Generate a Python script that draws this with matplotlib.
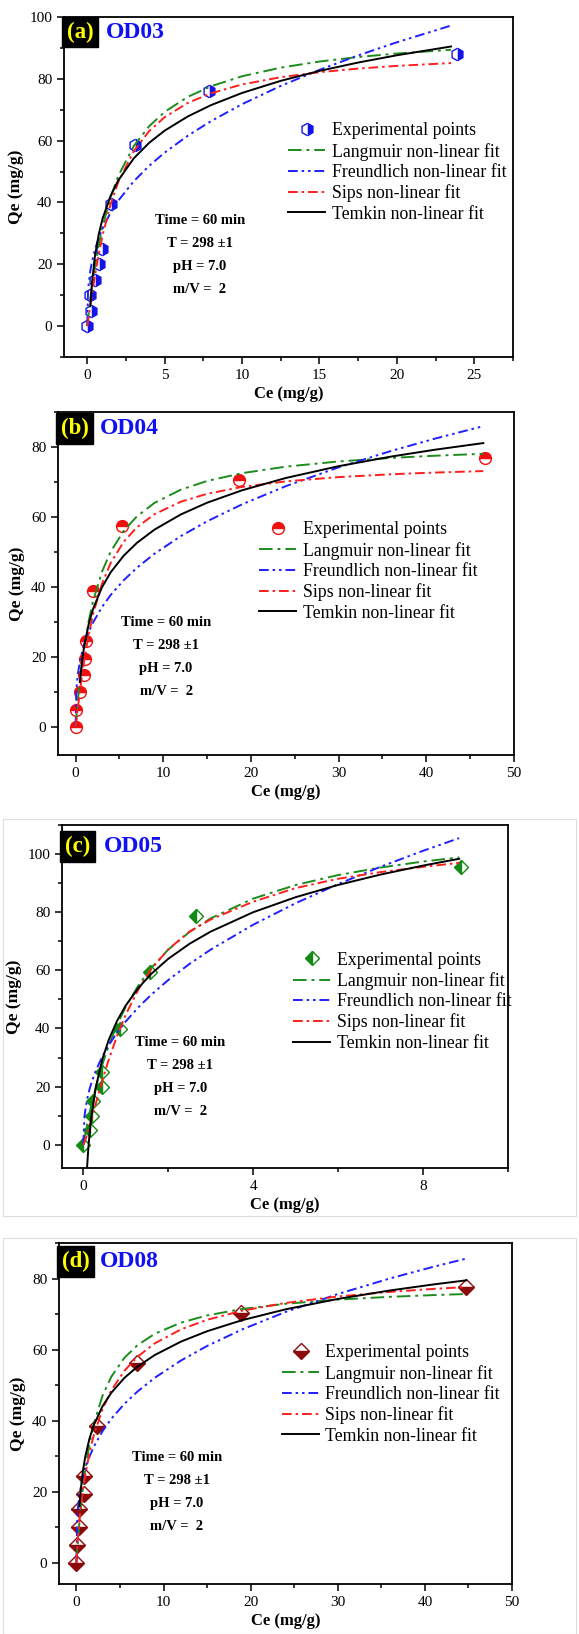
import numpy as np
import matplotlib
matplotlib.use("Agg")
from matplotlib import pyplot as plt
import matplotlib.ticker as mticker
from matplotlib.patches import Rectangle

plt.rcParams['font.family'] = ['Liberation Serif', 'DejaVu Serif']

# ---------------- experimental points ----------------
ce_a = [0.0, 0.22, 0.18, 0.52, 0.75, 0.95, 1.52, 3.06, 7.84, 23.88]
qe_a = [0, 5, 10, 15, 20, 25, 39.5, 58.5, 76.2, 88.0]
ce_b = [0.0, 0.1, 0.46, 0.95, 1.1, 1.2, 1.98, 5.3, 18.6, 46.7]
qe_b = [0, 5, 10, 15, 19.5, 24.5, 39.0, 57.5, 70.7, 76.9]
ce_c = [0.0, 0.17, 0.21, 0.23, 0.43, 0.45, 0.86, 1.58, 2.65, 8.89]
qe_c = [0, 5, 10, 15, 20, 25, 39.8, 59.5, 78.8, 95.6]
ce_d = [0.0, 0.1, 0.27, 0.3, 0.88, 0.9, 2.41, 6.9, 18.9, 44.7]
qe_d = [0, 5, 10, 15, 19.4, 24.5, 38.5, 56.1, 70.3, 77.5]

# ---------------- fitted curves ----------------
ce_fit_a = [0, 0.05, 0.1, 0.2, 0.3, 0.5, 0.75, 1, 1.5, 2, 3, 4, 5, 6.5, 8, 10,
            12.5, 15, 17.5, 20, 23.5]
lang_a = [0, 2.37, 4.62, 8.82, 12.65, 19.4, 26.45, 32.33, 41.57, 48.5, 58.2,
          64.67, 69.29, 74.18, 77.6, 80.83, 83.62, 85.59, 87.05, 88.18, 89.4]
freu_a = [0, 10.94, 14.0, 17.9, 20.67, 24.78, 28.62, 31.7, 36.61, 40.54, 46.82,
          51.86, 56.13, 61.61, 66.32, 71.79, 77.71, 82.9, 87.57, 91.82, 97.23]
sips_a = [0, 1.46, 3.14, 6.6, 10.02, 16.42, 23.48, 29.55, 39.24, 46.53, 56.58,
          63.09, 67.6, 72.21, 75.33, 78.17, 80.53, 82.14, 83.31, 84.18, 85.1]
temk_a = [6.57, 13.71, 22.7, 29.84, 34.9, 42.04, 47.1, 54.24, 59.3, 63.23,
          67.84, 71.5, 75.43, 79.35, 82.56, 85.27, 87.62, 90.46]

ce_fit_b = [0, 0.1, 0.25, 0.5, 0.75, 1, 1.5, 2, 3, 4, 5.5, 7, 9, 12, 15, 19,
            24, 30, 36, 41, 46.5]
lang_b = [0, 3.07, 7.27, 13.36, 18.54, 22.99, 30.27, 35.95, 44.27, 50.06, 56.06,
          60.18, 64.02, 67.8, 70.29, 72.53, 74.39, 75.87, 76.88, 77.51, 78.06]
freu_b = [0, 10.91, 14.85, 18.75, 21.48, 23.66, 27.11, 29.86, 34.22, 37.7, 41.95,
          45.5, 49.5, 54.53, 58.77, 63.63, 68.83, 74.19, 78.88, 82.4, 85.96]
sips_b = [0, 1.88, 5.04, 10.19, 14.92, 19.18, 26.42, 32.23, 40.85, 46.84, 52.96,
          57.07, 60.8, 64.36, 66.62, 68.6, 70.18, 71.4, 72.21, 72.7, 73.12]
temk_b = [12.86, 18.97, 23.3, 29.41, 33.74, 39.85, 44.18, 48.97, 52.61, 56.39,
          60.72, 64.08, 67.64, 71.16, 74.52, 77.27, 79.23, 81.12]

ce_fit_c = [0, 0.03, 0.06, 0.09, 0.12, 0.16, 0.2, 0.3, 0.45, 0.6, 0.8, 1.0, 1.3,
            1.6, 2, 2.5, 3, 4, 5, 6, 7, 8, 8.85]
lang_c = [0, 2.38, 4.65, 6.84, 8.95, 11.63, 14.17, 20.02, 27.62, 34.1, 41.36,
          47.43, 54.85, 60.8, 67.11, 73.18, 77.88, 84.67, 89.35, 92.77, 95.37,
          97.43, 98.86]
freu_c = [0, 9.79, 13.08, 15.5, 17.48, 19.71, 21.64, 25.63, 30.37, 34.25, 38.62,
          42.4, 47.31, 51.6, 56.65, 62.19, 67.12, 75.69, 83.09, 89.67, 95.64,
          101.12, 105.48]
sips_c = [0, 0.87, 2.09, 3.46, 4.93, 6.98, 9.08, 14.41, 22.15, 29.25, 37.6,
          44.73, 53.48, 60.39, 67.2, 73.3, 77.5, 83.6, 88.3, 91.5, 93.8, 95.6,
          96.97]
temk_c = [-7.84, -1.18, 5.48, 10.64, 20.03, 29.41, 36.07, 42.73, 47.9, 53.97,
          58.78, 63.95, 69.11, 73.33, 79.99, 85.16, 89.38, 92.95, 96.04, 98.38]

ce_fit_d = [0, 0.1, 0.2, 0.35, 0.5, 0.75, 1, 1.5, 2, 3, 4, 5.5, 7, 9, 12, 15,
            19, 24, 30, 36, 41, 44.75]
lang_d = [0, 3.69, 7.05, 11.56, 15.54, 21.23, 25.98, 33.47, 39.11, 47.04, 52.34,
          57.66, 61.22, 64.45, 67.58, 69.61, 71.41, 72.89, 74.05, 74.85, 75.34,
          75.64]
freu_d = [0, 12.91, 16.0, 19.03, 21.25, 24.1, 26.35, 29.88, 32.67, 37.04, 40.5,
          44.7, 48.17, 52.07, 56.92, 61.01, 65.65, 70.58, 75.63, 80.03, 83.32,
          85.61]
sips_d = [0, 4.55, 7.88, 12.03, 15.55, 20.45, 24.51, 30.97, 35.96, 43.28, 48.48,
          54.01, 57.96, 61.76, 65.68, 68.38, 70.92, 73.12, 74.94, 76.24, 77.08,
          77.6]
temk_d = [15.9, 20.57, 25.89, 29.66, 34.98, 38.75, 44.06, 47.83, 52.01, 55.17,
          58.47, 62.24, 65.16, 68.26, 71.32, 74.25, 76.64, 78.34, 79.49]

panel_tags = ["(a)", "(b)", "(c)", "(d)"]
panel_names = ["OD03", "OD04", "OD05", "OD08"]
series_labels = ["Experimental points", "Langmuir non-linear fit",
                 "Freundlich non-linear fit", "Sips non-linear fit",
                 "Temkin non-linear fit"]
conditions = ["Time = 60 min", "T = 298 \u00b11", "pH = 7.0", "m/V =  2"]

W, H = 579, 1634


def draw_panel(ax, ce, qe, fit_x, lang, freu, sips, temk, tag, name, marker, mcolor, fill,
               msize, xlim, ylim, xmaj, xmin_, ymaj, leg_pos, cond_pos, tag_y, name_x):
    ax.plot(ce, qe, linestyle='none', marker=marker, markersize=msize, color=mcolor,
            markeredgecolor=mcolor, markerfacecoloralt='white', fillstyle=fill,
            markeredgewidth=1.0, label=series_labels[0], zorder=2)
    ax.plot(fit_x, lang, color='#1c8c1c', lw=1.4, ls=(0, (7, 2.5, 1.5, 2.5)),
            label=series_labels[1], zorder=3)
    ax.plot(fit_x, freu, color='#1f1fff', lw=1.4, ls=(0, (5, 2, 1.3, 2, 1.3, 2)),
            label=series_labels[2], zorder=3)
    ax.plot(fit_x, sips, color='#ff1f1f', lw=1.4, ls=(0, (5, 2, 1.3, 2)),
            label=series_labels[3], zorder=3)
    ax.plot(fit_x[-len(temk):], temk, color='black', lw=1.4,
            label=series_labels[4], zorder=3)

    ax.set_xlim(*xlim)
    ax.set_ylim(*ylim)
    ax.xaxis.set_major_locator(mticker.MultipleLocator(xmaj))
    ax.xaxis.set_minor_locator(mticker.MultipleLocator(xmin_))
    ax.yaxis.set_major_locator(mticker.MultipleLocator(ymaj))
    ax.yaxis.set_minor_locator(mticker.MultipleLocator(ymaj / 2))
    ax.tick_params(which='both', direction='out', top=False, right=False,
                   labelsize=11, width=1.1)
    ax.tick_params(which='major', length=5)
    ax.tick_params(which='minor', length=3)
    for sp in ax.spines.values():
        sp.set_linewidth(1.3)

    ax.set_xlabel("Ce (mg/g)", fontsize=12, fontweight='bold', labelpad=3)
    ax.set_ylabel("Qe (mg/g)", fontsize=12.5, fontweight='bold', labelpad=4)

    ax.legend(loc='upper left', bbox_to_anchor=leg_pos, frameon=False, fontsize=12.8,
              handlelength=2.1, handletextpad=0.35, labelspacing=0.19, borderpad=0,
              borderaxespad=0)

    step = 0.067
    for i, line in enumerate(conditions):
        ax.text(cond_pos[0], cond_pos[1] - i * step, line, transform=ax.transAxes,
                ha='center', va='center', fontsize=10.5, fontweight='bold')

    ax.text(0.006, tag_y, tag, transform=ax.transAxes, ha='left', va='center',
            fontsize=16.5, fontweight='bold', color='#ffff00',
            bbox=dict(boxstyle='square,pad=0.2', facecolor='black', edgecolor='black'))
    ax.text(name_x, tag_y, name, transform=ax.transAxes, ha='left', va='center',
            fontsize=17, fontweight='bold', color='#1010f0')


fig = plt.figure(figsize=(W / 100, H / 100), dpi=100)

# faint frames of the stacked sub-images
fig.patches.append(Rectangle((3 / W, 1 - 1216 / H), 573 / W, 397 / H, transform=fig.transFigure,
                             fill=False, edgecolor='#dddddd', lw=0.8))
fig.patches.append(Rectangle((3 / W, 0.0), 573 / W, 396 / H, transform=fig.transFigure,
                             fill=False, edgecolor='#dddddd', lw=0.8))


def add_axes(left, right, top, bottom):
    return fig.add_axes([left / W, 1 - bottom / H, (right - left) / W, (bottom - top) / H])


ax_a = add_axes(64, 513, 17, 357)
draw_panel(ax_a, ce_a, qe_a, ce_fit_a, lang_a, freu_a, sips_a, temk_a,
           panel_tags[0], panel_names[0], 'h', '#1414e6', 'right', 9,
           (-1.5, 27.5), (-10, 100), 5, 2.5, 20,
           (0.499, 0.69), (0.303, 0.40), 0.955, 0.094)

ax_b = add_axes(58, 514, 412, 755)
draw_panel(ax_b, ce_b, qe_b, ce_fit_b, lang_b, freu_b, sips_b, temk_b,
           panel_tags[1], panel_names[1], 'o', '#f01010', 'top', 8.5,
           (-2, 50), (-8, 90), 10, 5, 20,
           (0.441, 0.681), (0.237, 0.385), 0.952, 0.092)

ax_c = add_axes(62, 508, 825, 1168)
draw_panel(ax_c, ce_c, qe_c, ce_fit_c, lang_c, freu_c, sips_c, temk_c,
           panel_tags[2], panel_names[2], 'D', '#138a13', 'left', 7.5,
           (-0.5, 10), (-8, 110), 4, 2, 20,
           (0.518, 0.631), (0.265, 0.367), 0.937, 0.094)

ax_d = add_axes(59, 512, 1243, 1584)
draw_panel(ax_d, ce_d, qe_d, ce_fit_d, lang_d, freu_d, sips_d, temk_d,
           panel_tags[3], panel_names[3], 'D', '#8b0a0a', 'bottom', 8,
           (-2, 50), (-6, 90), 10, 5, 20,
           (0.492, 0.703), (0.26, 0.37), 0.946, 0.09)

fig.savefig("out.png", dpi=100)
